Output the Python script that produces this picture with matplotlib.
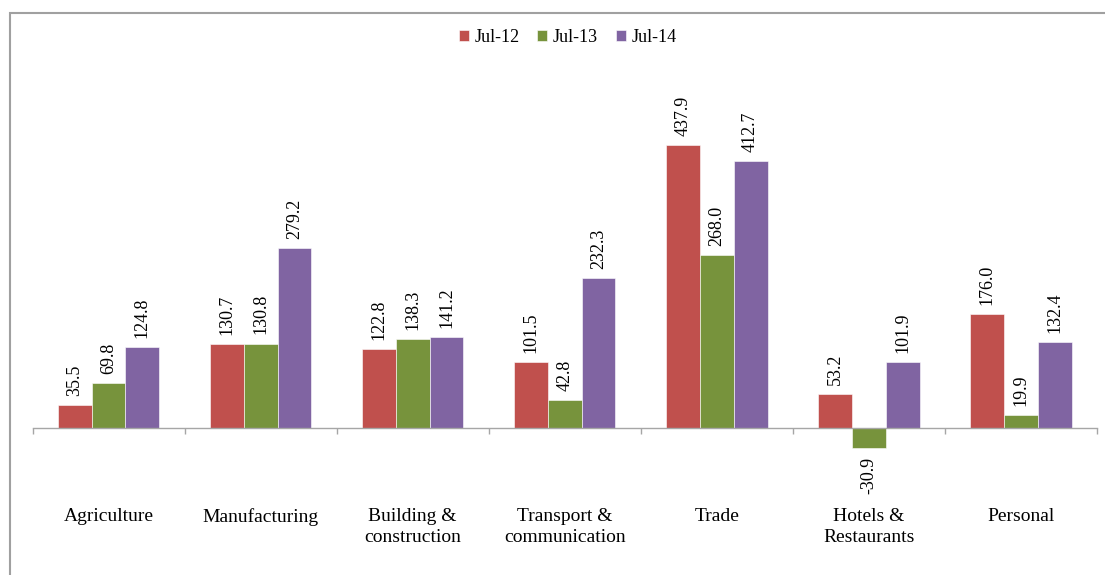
import numpy as np
import matplotlib.pyplot as plt
from matplotlib.patches import Rectangle

plt.rcParams['font.family'] = ['Liberation Serif', 'DejaVu Serif']

sectors = ['Agriculture', 'Manufacturing', 'Building &\nconstruction',
           'Transport &\ncommunication', 'Trade', 'Hotels &\nRestaurants', 'Personal']
jul12 = [35.5, 130.7, 122.8, 101.5, 437.9, 53.2, 176.0]
jul13 = [69.8, 130.8, 138.3, 42.8, 268.0, -30.9, 19.9]
jul14 = [124.8, 279.2, 141.2, 232.3, 412.7, 101.9, 132.4]
series = ['Jul-12', 'Jul-13', 'Jul-14']
colors = ['#C0504D', '#77933C', '#8064A2']

W, H = 1105, 575
fig = plt.figure(figsize=(W / 100, H / 100), dpi=100)
# plot area in pixels: x 32.5..1097, y (from top) 105..492.6
ax = fig.add_axes([32.5 / W, (H - 492.6) / H, 1064.5 / W, 387.6 / H])

x = np.arange(len(sectors))
bw = 1 / 4.5
for i, (vals, name, c) in enumerate(zip([jul12, jul13, jul14], series, colors)):
    bars = ax.bar(x + (i - 1) * bw, vals, bw, color=c, label=name,
                  edgecolor='white', linewidth=0.4)
    ax.bar_label(bars, fmt='%.1f', rotation=90, padding=6.5, fontsize=13)

ax.set_xlim(-0.5, len(sectors) - 0.5)
ax.set_ylim(-100, 500)

# category axis sits on the zero line
for s in ['top', 'right', 'left']:
    ax.spines[s].set_visible(False)
ax.spines['bottom'].set_position(('data', 0))
ax.spines['bottom'].set_color('#A6A6A6')
ax.spines['bottom'].set_linewidth(1)
ax.set_yticks([])
ax.set_xticks(x)
ax.set_xticklabels(sectors, fontsize=14, linespacing=1.3)
ax.tick_params(axis='x', which='major', length=0, pad=57.5)
ax.set_xticks(np.arange(-0.5, len(sectors)), minor=True)
ax.tick_params(axis='x', which='minor', length=4, width=1, color='#A6A6A6', direction='out')

fig.legend(loc='center', bbox_to_anchor=(567.7 / W, 1 - 37 / H), ncol=3, frameon=False,
           fontsize=13, handlelength=0.55, handleheight=0.55, handletextpad=0.3,
           columnspacing=1.0)

# chart frame
fig.add_artist(Rectangle((9.5 / W, -0.1), 1.2, (H - 13) / H + 0.1, transform=fig.transFigure,
                         fill=False, ec='#A0A0A0', lw=1.5))

fig.savefig('out.png', dpi=100)
